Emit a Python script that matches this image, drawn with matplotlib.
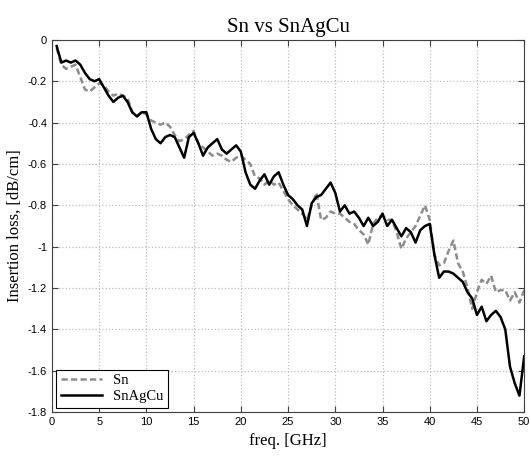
import numpy as np
import matplotlib
matplotlib.use("Agg")
import matplotlib.pyplot as plt
from matplotlib.ticker import FuncFormatter

# frequency points [GHz]
freq = np.arange(0.5, 50.01, 0.5)

# Sn (grey dashed)
sn = [-0.04, -0.12, -0.14, -0.13, -0.12, -0.18, -0.24, -0.25, -0.23, -0.21,
      -0.22, -0.25, -0.27, -0.26, -0.27, -0.28, -0.35, -0.37, -0.35, -0.36,
      -0.39, -0.40, -0.41, -0.40, -0.42, -0.46, -0.49, -0.48, -0.46, -0.44,
      -0.50, -0.52, -0.54, -0.56, -0.55, -0.56, -0.58, -0.59, -0.57, -0.56,
      -0.58, -0.60, -0.66, -0.67, -0.70, -0.68, -0.70, -0.69, -0.73, -0.77,
      -0.80, -0.82, -0.84, -0.87, -0.80, -0.74, -0.87, -0.86, -0.83, -0.84,
      -0.84, -0.86, -0.88, -0.89, -0.92, -0.94, -0.99, -0.89, -0.86, -0.85,
      -0.87, -0.87, -0.93, -1.01, -0.96, -0.93, -0.90, -0.85, -0.80, -0.87,
      -1.04, -1.09, -1.08, -1.02, -0.97, -1.08, -1.12, -1.20, -1.30, -1.22,
      -1.16, -1.18, -1.14, -1.22, -1.21, -1.21, -1.26, -1.22, -1.27, -1.21]

# SnAgCu (black solid)
snagcu = [-0.03, -0.11, -0.10, -0.11, -0.10, -0.12, -0.16, -0.19, -0.20, -0.19,
          -0.23, -0.27, -0.30, -0.28, -0.27, -0.30, -0.35, -0.37, -0.35, -0.35,
          -0.43, -0.48, -0.50, -0.47, -0.46, -0.47, -0.52, -0.57, -0.47, -0.45,
          -0.50, -0.56, -0.52, -0.50, -0.48, -0.53, -0.55, -0.53, -0.51, -0.54,
          -0.64, -0.70, -0.72, -0.68, -0.65, -0.70, -0.66, -0.64, -0.70, -0.75,
          -0.77, -0.80, -0.82, -0.90, -0.79, -0.76, -0.75, -0.72, -0.69, -0.74,
          -0.83, -0.80, -0.84, -0.83, -0.86, -0.90, -0.86, -0.90, -0.88, -0.84,
          -0.90, -0.87, -0.91, -0.95, -0.91, -0.93, -0.98, -0.92, -0.90, -0.89,
          -1.04, -1.15, -1.12, -1.12, -1.13, -1.15, -1.17, -1.22, -1.25, -1.33,
          -1.29, -1.36, -1.33, -1.31, -1.34, -1.40, -1.58, -1.66, -1.72, -1.53]

plt.rcParams['axes.unicode_minus'] = False


def fmt(v, pos):
    v = round(v, 1)
    if v == 0:
        return '0'
    return '%g' % v


fig = plt.figure(figsize=(5.3, 4.58), dpi=100)
ax = fig.add_axes([0.098, 0.100, 0.891, 0.813])

ax.plot(freq, sn, '--', color='#8c8c8c', lw=1.8, dashes=(2.5, 1.3), label='Sn')
ax.plot(freq, snagcu, '-', color='black', lw=1.8, label='SnAgCu')

ax.set_xlim(0, 50)
ax.set_ylim(-1.8, 0)
ax.set_xticks(np.arange(0, 51, 5))
ax.set_yticks(np.arange(-1.8, 0.01, 0.2))
ax.yaxis.set_major_formatter(FuncFormatter(fmt))
ax.grid(True, linestyle=':', color='#bdbdbd', lw=0.9)
ax.tick_params(direction='in', top=True, right=True, labelsize=8,
               color='#404040', length=4)
for lab in ax.get_xticklabels() + ax.get_yticklabels():
    lab.set_family('Liberation Sans')
for s in ax.spines.values():
    s.set_color('#404040')

ax.set_title('Sn vs SnAgCu', family='Liberation Serif', fontsize=15)
ax.set_xlabel('freq. [GHz]', family='Liberation Serif', fontsize=12)
ax.set_ylabel('Insertion loss, [dB/cm]', family='Liberation Serif', fontsize=12)

leg = ax.legend(loc='lower left', prop={'family': 'Liberation Serif', 'size': 10.5},
                fancybox=False, edgecolor='black', framealpha=1,
                borderaxespad=0.3, handlelength=2.8, labelspacing=0.2,
                borderpad=0.3)
leg.get_frame().set_linewidth(0.8)

fig.savefig('out.png', dpi=100)
